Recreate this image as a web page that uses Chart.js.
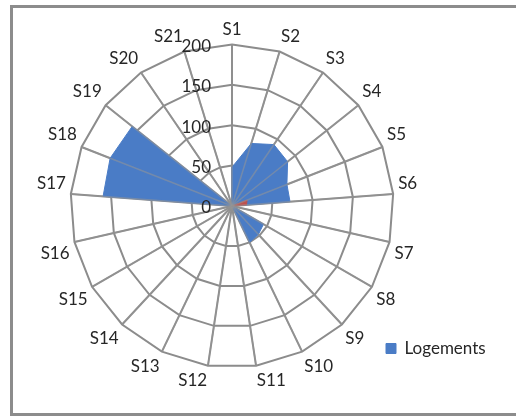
<!DOCTYPE html>
<html>
<head>
<meta charset="utf-8">
<script src="https://cdn.jsdelivr.net/npm/chart.js@4.4.0/dist/chart.umd.min.js"></script>
<style>
  html, body { margin: 0; padding: 0; background: #fff; overflow: hidden; }
  #frame { position: absolute; left: 10px; top: 5px; width: 520px; height: 405px; border: 3px solid #8c8c8c; }
  #c { position: absolute; left: 0; top: 0; }
</style>
</head>
<body>
<div id="frame"></div>
<canvas id="c" width="516" height="418"></canvas>
<script>
var sectors = ['S1', 'S2', 'S3', 'S4', 'S5', 'S6', 'S7', 'S8', 'S9', 'S10', 'S11',
               'S12', 'S13', 'S14', 'S15', 'S16', 'S17', 'S18', 'S19', 'S20', 'S21'];
var logements = [48, 81, 92, 88, 73, 72, 0, 45, 48, 50, 0,
                 0, 0, 0, 0, 0, 160, 162, 158, 0, 0];
// small red patch near the centre (second series, not in the legend)
var serie2 = [0, 0, 0, 0, 20, 18, 0, 0, 0, 0, 0,
              0, 0, 0, 0, 0, 0, 0, 0, 0, 0];
var tickValues = [0, 50, 100, 150, 200];

var blue = '#4a7cc6';
var red = '#c0504d';
var txt = '#262626';

var overlay = {
  id: 'overlay',
  afterLayout: function(chart) {
    // legend sits in the lower right corner, over the chart area
    var lg = chart.legend;
    var w = lg.width;
    lg.left = 376; lg.top = 330;
    lg.right = lg.left + w; lg.bottom = lg.top + 40;
  },
  afterDatasetsDraw: function(chart) {
    var s = chart.scales.r, ctx = chart.ctx;
    ctx.save();
    ctx.strokeStyle = 'rgba(150,150,150,0.55)';
    ctx.lineWidth = 1.5;
    for (var i = 0; i < sectors.length; i++) {
      var p = s.getPointPositionForValue(i, s.max);
      ctx.beginPath();
      ctx.moveTo(s.xCenter, s.yCenter);
      ctx.lineTo(p.x, p.y);
      ctx.stroke();
    }
    ctx.font = '17px Lato';
    ctx.fillStyle = txt;
    ctx.textAlign = 'right';
    ctx.textBaseline = 'middle';
    tickValues.forEach(function(v) {
      var d = s.getDistanceFromCenterForValue(v);
      ctx.fillText(String(v), s.xCenter - 21, s.yCenter - d + 2);
    });
    ctx.restore();
  }
};

new Chart(document.getElementById('c'), {
  type: 'radar',
  data: {
    labels: sectors,
    datasets: [{
      label: 'Logements',
      data: logements,
      backgroundColor: blue,
      borderColor: blue,
      borderWidth: 1,
      fill: true,
      pointRadius: 0,
      order: 1
    }, {
      label: 'Série 2',
      data: serie2,
      backgroundColor: red,
      borderColor: red,
      borderWidth: 1,
      fill: true,
      pointRadius: 0,
      order: 0
    }]
  },
  options: {
    responsive: false,
    animation: false,
    layout: { padding: { left: 7, right: 59, top: 18, bottom: 25 } },
    elements: { line: { tension: 0 } },
    plugins: {
      legend: {
        position: 'chartArea',
        align: 'start',
        labels: {
          boxWidth: 10,
          boxHeight: 10,
          color: txt,
          font: { family: 'Lato', size: 17 },
          filter: function(item) { return item.datasetIndex === 0; }
        }
      },
      tooltip: { enabled: false }
    },
    scales: {
      r: {
        min: 0,
        max: 200,
        ticks: { stepSize: 50, display: false },
        grid: { color: '#8c8c8c', lineWidth: 2 },
        angleLines: { color: '#8c8c8c', lineWidth: 2 },
        pointLabels: { color: txt, font: { family: 'Lato', size: 17 }, padding: 5 }
      }
    }
  },
  plugins: [overlay]
});
</script>
</body>
</html>
